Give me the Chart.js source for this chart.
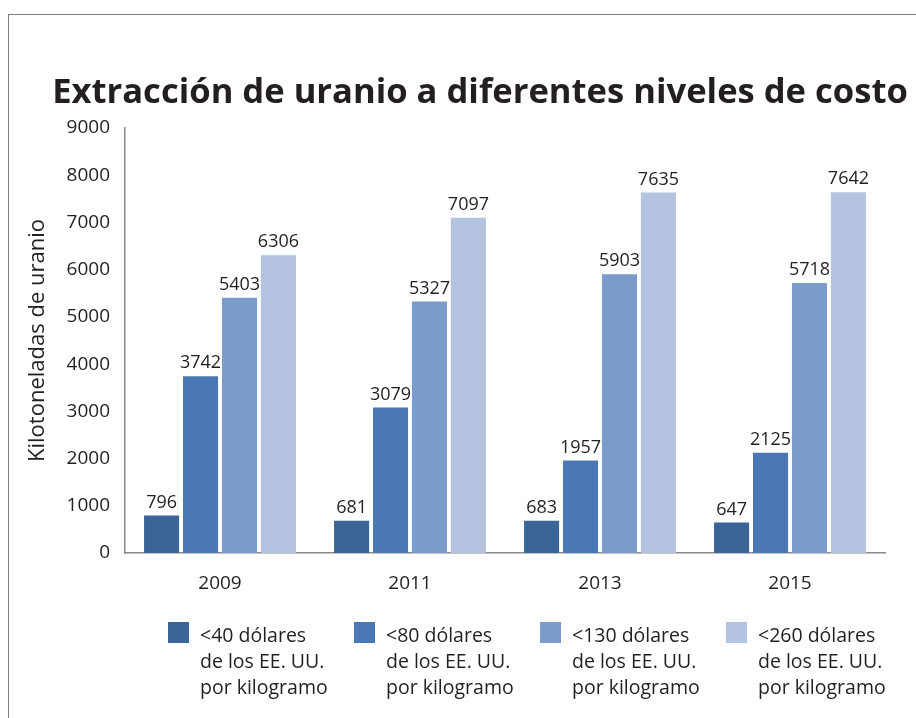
<!DOCTYPE html>
<html>
<head>
<meta charset="utf-8">
<script src="https://cdn.jsdelivr.net/npm/chart.js@4.4.0/dist/chart.umd.min.js"></script>
<style>
html,body{margin:0;padding:0;background:#fff;overflow:hidden;width:916px;height:718px;}
#frame{position:absolute;left:8px;top:14px;width:1000px;height:1000px;border-left:1.5px solid #7d7d7d;border-top:1.5px solid #7d7d7d;}
#wrap{position:absolute;left:0;top:0;width:916px;height:718px;}
#title{position:absolute;left:0;top:66px;width:960px;text-align:center;font-family:"Open Sans";font-weight:bold;font-size:34.6px;line-height:48px;color:#231f20;white-space:nowrap;}
.lg{position:absolute;top:622px;}
.sw{position:absolute;left:0;top:0;width:21px;height:21px;}
.tx{position:absolute;left:32px;top:0;font-family:"Open Sans";font-size:19.5px;line-height:26px;color:#231f20;white-space:nowrap;}
</style>
</head>
<body>
<div id="frame"></div>
<div id="wrap"><canvas id="c" width="916" height="718"></canvas></div>
<div id="title"></div>
<div id="legend"></div>
<script>
const chartTitle = 'Extracción de uranio a diferentes niveles de costo';
const yAxisTitle = 'Kilotoneladas de uranio';
const categories = ['2009', '2011', '2013', '2015'];
const seriesNames = [
  ['<40 dólares', 'de los EE. UU.', 'por kilogramo'],
  ['<80 dólares', 'de los EE. UU.', 'por kilogramo'],
  ['<130 dólares', 'de los EE. UU.', 'por kilogramo'],
  ['<260 dólares', 'de los EE. UU.', 'por kilogramo']
];
const under40 = [796, 681, 683, 647];
const under80 = [3742, 3079, 1957, 2125];
const under130 = [5403, 5327, 5903, 5718];
const under260 = [6306, 7097, 7635, 7642];
const yTicks = [0, 1000, 2000, 3000, 4000, 5000, 6000, 7000, 8000, 9000];
const colors = ['#3b6597', '#4a78b5', '#7b9bcb', '#b4c3df'];

const seriesValues = [under40, under80, under130, under260];

document.getElementById('title').textContent = chartTitle;

const legend = document.getElementById('legend');
seriesNames.forEach((lines, i) => {
  const item = document.createElement('div');
  item.className = 'lg';
  item.style.left = (168 + i * 186) + 'px';
  const sw = document.createElement('div');
  sw.className = 'sw';
  sw.style.background = colors[i];
  const tx = document.createElement('div');
  tx.className = 'tx';
  lines.forEach((l, j) => {
    if (j) tx.appendChild(document.createElement('br'));
    tx.appendChild(document.createTextNode(l));
  });
  item.appendChild(sw);
  item.appendChild(tx);
  legend.appendChild(item);
});

const valueLabels = {
  id: 'valueLabels',
  afterDatasetsDraw(chart) {
    const ctx = chart.ctx;
    ctx.save();
    ctx.font = '18px "Open Sans"';
    ctx.fillStyle = '#231f20';
    ctx.textAlign = 'center';
    ctx.textBaseline = 'bottom';
    chart.data.datasets.forEach((ds, di) => {
      const meta = chart.getDatasetMeta(di);
      meta.data.forEach((el, i) => {
        ctx.fillText(String(ds.data[i]), el.x, el.y - 4);
      });
    });
    ctx.restore();
  }
};

new Chart(document.getElementById('c'), {
  type: 'bar',
  data: {
    labels: categories,
    datasets: seriesValues.map((vals, i) => ({
      label: seriesNames[i].join(' '),
      data: vals,
      backgroundColor: colors[i],
      borderWidth: 0,
      categoryPercentage: 0.82,
      barPercentage: 0.9
    }))
  },
  options: {
    responsive: false,
    animation: false,
    devicePixelRatio: 1,
    layout: { padding: { left: 0, right: 31, top: 128, bottom: 125 } },
    plugins: {
      legend: { display: false },
      title: { display: false },
      tooltip: { enabled: false }
    },
    scales: {
      x: {
        grid: { display: false, drawTicks: false },
        border: { display: true, color: '#8a8a8a', width: 1.5 },
        ticks: { color: '#231f20', font: { family: 'Open Sans', size: 19 }, padding: 19 },
        afterFit(s) { s.height = 40; }
      },
      y: {
        min: 0,
        max: 9000,
        grid: { display: false, drawTicks: false },
        border: { display: true, color: '#8a8a8a', width: 1.5 },
        afterBuildTicks(s) { s.ticks = yTicks.map(v => ({ value: v })); },
        ticks: {
          color: '#231f20',
          font: { family: 'Open Sans', size: 19 },
          padding: 15,
          callback: (v) => String(v)
        },
        title: {
          display: true,
          text: yAxisTitle,
          color: '#231f20',
          font: { family: 'Open Sans', size: 22 },
          padding: { top: 25, bottom: 0 }
        },
        afterFit(s) { s.width = 125; }
      }
    }
  },
  plugins: [valueLabels]
});
</script>
</body>
</html>
